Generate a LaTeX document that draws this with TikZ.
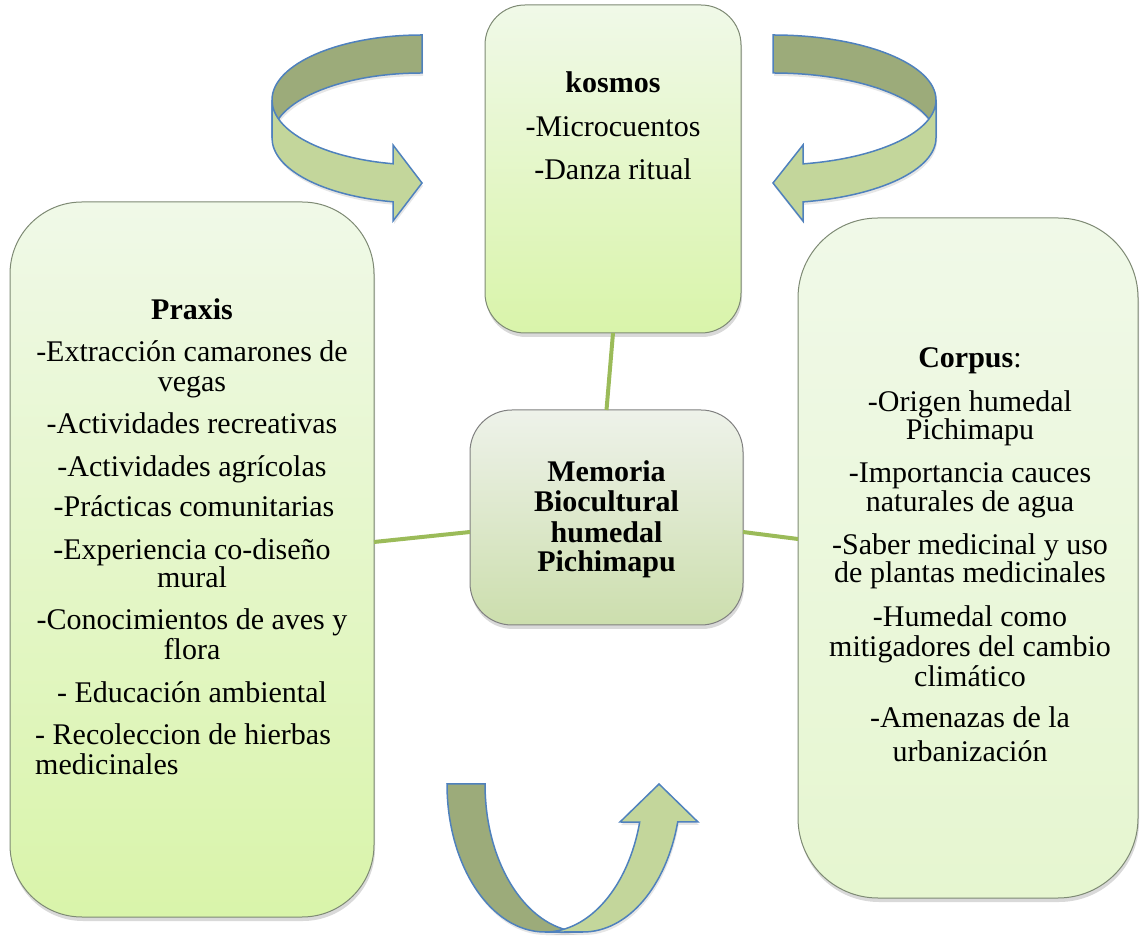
\documentclass[tikz,border=0pt]{standalone}
\usepackage{fontspec}
\setmainfont{Liberation Serif}
\usetikzlibrary{shadows,calc}
\definecolor{arrowline}{HTML}{4F81BD}
\definecolor{backface}{HTML}{9CAB7A}
\definecolor{frontface}{HTML}{C3D69B}
\definecolor{linkgreen}{HTML}{9BBB59}
\definecolor{boxline}{HTML}{7E8A74}
\definecolor{boxtop}{HTML}{F0F9E8}
\definecolor{boxbot}{HTML}{D9F4AA}
\definecolor{corpbot}{HTML}{E6F6D0}
\definecolor{memtop}{HTML}{EEF2EA}
\definecolor{membot}{HTML}{CCDEAD}
\begin{document}
\begin{tikzpicture}[x=1pt,y=1pt,
  box/.style={draw=boxline, line width=1pt, inner sep=0pt, outer sep=0pt,
    top color=boxtop, bottom color=boxbot,
    drop shadow={opacity=0.3, shadow xshift=1pt, shadow yshift=-4pt}},
  backarrow/.style={draw=arrowline, line width=1.5pt, fill=backface, line join=miter},
  frontarrow/.style={draw=arrowline, line width=1.5pt, fill=frontface, line join=miter},
  arrowshadow/.style={drop shadow={opacity=0.2, shadow xshift=1pt, shadow yshift=-3pt}},
  link/.style={draw=linkgreen, line width=4pt},
  txt/.style={anchor=base, inner sep=0pt, font=\fontsize{30}{30}\selectfont},
  bold/.style={txt, font=\fontsize{30}{30}\selectfont\bfseries},
  ltxt/.style={txt, anchor=base west}]
\useasboundingbox (0,0) rectangle (1140,937);

% curved arrows
% top-left
\path[backarrow, arrowshadow] (422,902) arc[start angle=90,end angle=180,x radius=150,y radius=65]
  -- (272,799) arc[start angle=180,end angle=90,x radius=150,y radius=65] -- cycle;
\path[frontarrow, arrowshadow] (272,837) arc[start angle=180,end angle=258.85,x radius=150,y radius=65]
  -- (393,792) -- (422,754) -- (393,716) -- (393,735.2)
  arc[start angle=258.85,end angle=180,x radius=150,y radius=65] -- cycle;
% top-right
\path[backarrow, arrowshadow] (773,902) arc[start angle=90,end angle=0,x radius=163,y radius=65]
  -- (936,799) arc[start angle=0,end angle=90,x radius=163,y radius=65] -- cycle;
\path[frontarrow, arrowshadow] (936,837) arc[start angle=0,end angle=-79.39,x radius=163,y radius=65]
  -- (803,792) -- (773,754) -- (803,716) -- (803,735.1)
  arc[start angle=-79.39,end angle=0,x radius=163,y radius=65] -- cycle;
% bottom
\path[backarrow, arrowshadow] (447,153) arc[start angle=180,end angle=270,x radius=98,y radius=148]
  -- (583,5) arc[start angle=270,end angle=180,x radius=98,y radius=148] -- cycle;
\path[frontarrow, arrowshadow] (545,5) arc[start angle=270,end angle=345.12,x radius=98,y radius=148]
  -- (620,115) -- (659,153) -- (698,115) -- (677.7,115)
  arc[start angle=345.12,end angle=270,x radius=98,y radius=148] -- cycle;

% boxes
\node[box, rounded corners=72pt, minimum width=364pt, minimum height=715pt] (praxis) at (192,377.5) {};
\node[box, rounded corners=40pt, minimum width=256pt, minimum height=328pt] (kosmos) at (613,768) {};
\node[box, rounded corners=80pt, minimum width=340pt, minimum height=680pt, bottom color=corpbot] (corpus) at (968,379) {};
\node[box, rounded corners=42pt, minimum width=273pt, minimum height=215pt, draw=gray, top color=memtop, bottom color=membot] (memoria) at (606.5,419.5) {};

% connectors
\draw[link] (kosmos.south) -- (memoria.north);
\draw[link] ($(memoria.west)+(0,-14.5)$) -- ($(praxis.east)+(0,17.5)$);
\draw[link] ($(memoria.east)+(0,-14.5)$) -- ($(corpus.west)+(0,19)$);

% kosmos text
\node[bold] (k0) at (613,844) {kosmos};
\node[txt] (k1) at (613,800) {-Microcuentos};
\node[txt] (k2) at (613,757) {-Danza ritual};

% memoria text
\node[bold] (m1) at (606.5,455) {Memoria};
\node[bold] (m2) at (606.5,425) {Biocultural};
\node[bold] (m3) at (606.5,394) {humedal};
\node[bold] (m4) at (606.5,365) {Pichimapu};

% praxis text
\node[bold] (p0) at (192,617) {Praxis};
\node[txt] (p1) at (192,575) {-Extracción camarones de};
\node[txt] (p2) at (192,545) {vegas};
\node[txt] (p3) at (192,503) {-Actividades recreativas};
\node[txt] (p4) at (192,460) {-Actividades agrícolas};
\node[txt] (p5) at (194,420) {-Prácticas comunitarias};
\node[txt] (p6) at (192,377) {-Experiencia co-diseño};
\node[txt] (p7) at (192,349) {mural};
\node[txt] (p8) at (192,307) {-Conocimientos de aves y};
\node[txt] (p9) at (192,277) {flora};
\node[txt] (p10) at (192,234) {- Educación ambiental};
\node[ltxt] (p11) at (35,192) {- Recoleccion de hierbas};
\node[ltxt] (p12) at (35,162) {medicinales};

% corpus text
\node[txt] (c0) at (970,569) {\textbf{Corpus}:};
\node[txt] (c1) at (970,525) {-Origen humedal};
\node[txt] (c2) at (970,497) {Pichimapu};
\node[txt] (c3) at (970,454) {-Importancia cauces};
\node[txt] (c4) at (970,425) {naturales de agua};
\node[txt] (c5) at (970,382) {-Saber medicinal y uso};
\node[txt] (c6) at (970,354) {de plantas medicinales};
\node[txt] (c7) at (970,310) {-Humedal como};
\node[txt] (c8) at (970,280) {mitigadores del cambio};
\node[txt] (c9) at (970,250) {climático};
\node[txt] (c10) at (970,209) {-Amenazas de la};
\node[txt] (c11) at (970,175) {urbanización};
\end{tikzpicture}
\end{document}
